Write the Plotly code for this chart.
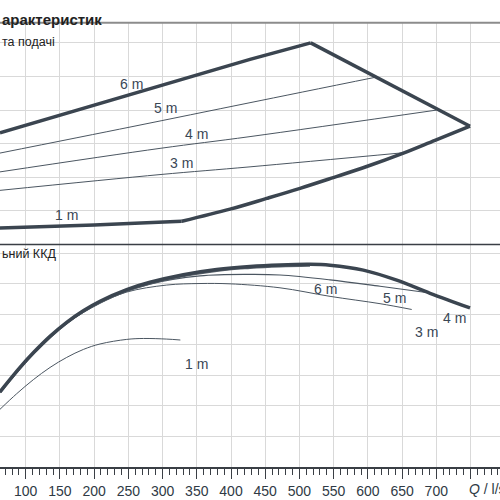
"""Pump curves: head/flow (top) and efficiency (bottom)."""

import plotly.graph_objects as go
from plotly.subplots import make_subplots

# --- head vs flow (top panel) ---
q_6m = [62.4, 253.9, 427.8, 516.5]
h_6m = [3.32, 4.46, 5.51, 6.0]
q_qmax = [516.5, 749.3]
h_qmax = [6.0, 3.52]
q_1m = [62.4, 200, 328, 398.6, 452.2, 500.9, 549.5, 598.3, 651.9, 698.1, 749.3]
h_1m = [0.49, 0.58, 0.69, 1.05, 1.37, 1.67, 1.99, 2.32, 2.72, 3.10, 3.52]
q_5m = [62.4, 253.9, 427.8, 611.9]
h_5m = [2.72, 3.50, 4.22, 4.98]
q_4m = [62.4, 296.3, 427.8, 700.6]
h_4m = [2.16, 2.86, 3.21, 4.0]
q_3m = [62.4, 296.3, 427.8, 651.9]
h_3m = [1.61, 2.08, 2.31, 2.73]

# --- efficiency vs flow (bottom panel) ---
q_eta_4m = [62.4, 91.7, 111.1, 135.5, 159.9, 184.2, 208.6, 247.6, 281.6, 330.3,
            379.1, 427.8, 471.6, 515.5, 544.7, 593.4, 642.2, 690.9, 749.3]
eta_4m = [24.6, 32.6, 37.4, 42.8, 47.4, 51.2, 54.3, 58.1, 60.5, 63.0,
          64.7, 65.7, 66.2, 66.4, 66.1, 64.5, 61.2, 56.9, 52.1]
q_eta_6m = [62.4, 111.1, 159.9, 208.6, 281.6, 379.1, 427.8, 471.6, 515.5]
eta_6m = [24.4, 37.2, 47.2, 54.0, 60.2, 64.3, 65.3, 65.8, 66.0]
q_eta_5m = [62.4, 111.1, 159.9, 208.6, 281.6, 354.7, 427.8, 471.6, 544.7, 617.8, 690.9]
eta_5m = [24.5, 37.3, 47.3, 54.0, 59.9, 62.6, 63.1, 62.9, 61.3, 59.2, 57.0]
q_eta_3m = [62.4, 111.1, 159.9, 208.6, 247.6, 306.1, 354.7, 398.6, 471.6, 544.7, 617.8, 664.1]
eta_3m = [24.4, 37.2, 47.0, 53.6, 57.3, 59.6, 60.1, 60.0, 58.7, 55.9, 53.5, 51.6]
q_eta_1m = [62.4, 86.8, 111.1, 135.5, 159.9, 184.2, 208.6, 247.6, 271.9, 306.1, 326.0]
eta_1m = [18.9, 24.0, 28.6, 32.6, 35.9, 38.5, 40.3, 41.8, 42.1, 41.9, 41.6]

# curve labels: (text, Q, value)
head_labels = [("6 m", 253.9, 4.79), ("5 m", 304.6, 4.05), ("4 m", 348.9, 3.28),
               ("3 m", 328.0, 2.43), ("1 m", 159.9, 0.87)]
eta_labels = [("6 m", 537.4, 58.2), ("5 m", 638.2, 55.4), ("4 m", 725.9, 48.7),
              ("3 m", 685.0, 44.3), ("1 m", 348.9, 33.6)]
x_ticks = [100, 150, 200, 250, 300, 350, 400, 450, 500, 550, 600, 650, 700, 750]

DARK = '#3b4550'
THIN = '#4b5661'
GRID = '#d9d9d9'
TXT = '#3a4755'

fig = make_subplots(rows=2, cols=1, shared_xaxes=True, vertical_spacing=0)


def add_line(q, v, row, width, color=DARK, shape='linear'):
    fig.add_trace(go.Scatter(x=q, y=v, mode='lines',
                             line=dict(color=color, width=width, shape=shape, smoothing=1.0),
                             hoverinfo='skip', showlegend=False),
                  row=row, col=1)


add_line(q_5m, h_5m, 1, 1, THIN, 'spline')
add_line(q_4m, h_4m, 1, 1, THIN, 'spline')
add_line(q_3m, h_3m, 1, 1, THIN, 'spline')
add_line(q_6m, h_6m, 1, 3.5)
add_line(q_qmax, h_qmax, 1, 3.5)
# 1 m curve: straight run up to the corner at Q = 328, curved after it
add_line(q_1m[:3], h_1m[:3], 1, 3.5)
add_line(q_1m[2:], h_1m[2:], 1, 3.5, DARK, 'spline')

add_line(q_eta_1m, eta_1m, 2, 1, THIN, 'spline')
add_line(q_eta_3m, eta_3m, 2, 1, THIN, 'spline')
add_line(q_eta_5m, eta_5m, 2, 1.2, THIN, 'spline')
add_line(q_eta_6m, eta_6m, 2, 2.5, '#5a636c', 'spline')
add_line(q_eta_4m, eta_4m, 2, 3.5, DARK, 'spline')

for text, q, v in head_labels:
    fig.add_annotation(x=q, y=v, xref='x', yref='y', text=text, showarrow=False,
                       font=dict(size=14, color=TXT))
for text, q, v in eta_labels:
    fig.add_annotation(x=q, y=v, xref='x2', yref='y2', text=text, showarrow=False,
                       font=dict(size=14, color=TXT))
fig.add_annotation(x=62.4, y=4.15, xref='x', yref='y', text='Qmin', showarrow=False,
                   xanchor='left', font=dict(size=14, color='#4d6072'))

H_PAPER = 466.7
fig.add_annotation(x=0, y=(H_PAPER - 9) / H_PAPER, xref='paper', yref='paper',
                   text='<b>арактеристик</b>', showarrow=False, xanchor='left',
                   font=dict(size=15, color='#222'))
fig.add_annotation(x=0, y=(H_PAPER - 33) / H_PAPER, xref='paper', yref='paper',
                   text='та подачі', showarrow=False, xanchor='left',
                   font=dict(size=12.5, color='#222'))
fig.add_annotation(x=0, y=(H_PAPER - 254) / H_PAPER, xref='paper', yref='paper',
                   text='ьний ККД', showarrow=False, xanchor='left',
                   font=dict(size=12.5, color='#222'))
fig.add_annotation(x=750, y=0, xref='x2', yref='paper', text='<i>Q</i> / l/s',
                   showarrow=False, xanchor='left', yanchor='top', xshift=-4, yshift=-12,
                   font=dict(size=14, color='#2f3a45'))

split = 222.4 / H_PAPER
top = (H_PAPER - 22.7) / H_PAPER
fig.add_shape(type='line', xref='paper', yref='paper', x0=0, x1=1, y0=top, y1=top,
              line=dict(color='#8c8c8c', width=2))
fig.add_shape(type='line', xref='paper', yref='paper', x0=0, x1=1, y0=split, y1=split,
              line=dict(color='#3a3f45', width=1.5))

x_range = [62.44, 793.1]
fig.update_xaxes(range=x_range, showgrid=True, gridcolor=GRID, gridwidth=1,
                 tickmode='array', tickvals=x_ticks, zeroline=False)
fig.update_xaxes(row=1, col=1, showticklabels=False, ticks='')
fig.update_xaxes(row=2, col=1, ticktext=[str(t) for t in x_ticks[:-1]] + [''],
                 ticks='outside', ticklen=10, tickwidth=1.2, tickcolor='#3a3f45',
                 showline=True, linecolor='#3a3f45', linewidth=1.5,
                 tickfont=dict(size=14, color='#2f3a45', family='Arial'),
                 minor=dict(ticks='outside', dtick=10, tick0=0, ticklen=6,
                            tickcolor='#3a3f45', tickwidth=1, showgrid=False))

fig.update_yaxes(row=1, col=1, range=[0, 6.6], tickvals=[1, 2, 3, 4, 5, 6],
                 showticklabels=False, showgrid=True, gridcolor=GRID, zeroline=False,
                 domain=[split, top])
fig.update_yaxes(row=2, col=1, range=[0, 72.9], tickvals=[10, 20, 30, 40, 50, 60, 70],
                 showticklabels=False, showgrid=True, gridcolor=GRID, zeroline=False,
                 domain=[0, split])

fig.update_layout(
    width=500,
    height=500,
    margin=dict(t=0, b=500 - H_PAPER, l=0, r=0),
    plot_bgcolor='white',
    paper_bgcolor='white',
    font=dict(family='Arial'),
)

fig.write_html("out.html", config={'displayModeBar': False},
               post_script="document.body.style.margin='0';")
